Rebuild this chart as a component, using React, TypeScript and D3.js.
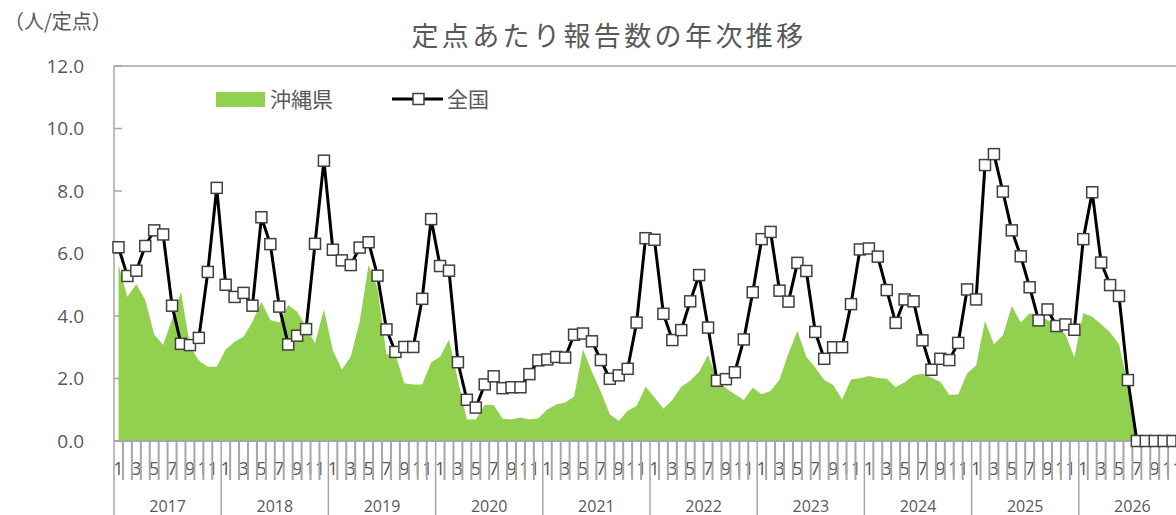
import React from 'react'
import * as d3 from 'd3'

// 年 / 月ラベル
const years = ['2017', '2018', '2019', '2020', '2021', '2022', '2023', '2024', '2025', '2026']
const monthLabels = ['1', '', '3', '', '5', '', '7', '', '9', '', '11', '']
const yTicks = [0, 2, 4, 6, 8, 10, 12]

// 沖縄県 (定点あたり)
const okinawa = [
  5.63, 4.62, 5.02, 4.51, 3.41, 3.07, 3.9, 4.78, 3.05, 2.57, 2.38, 2.38,
  2.93, 3.18, 3.34, 3.82, 4.46, 3.87, 3.79, 4.35, 4.14, 3.66, 3.13, 4.21,
  2.9, 2.29, 2.7, 3.82, 5.63, 4.9, 2.78, 2.77, 1.85, 1.81, 1.81, 2.51,
  2.7, 3.25, 1.95, 0.69, 0.69, 1.15, 1.15, 0.71, 0.69, 0.75, 0.69, 0.73,
  1.01, 1.17, 1.23, 1.42, 2.93, 2.22, 1.58, 0.86, 0.64, 0.97, 1.12, 1.74,
  1.4, 1.03, 1.31, 1.74, 1.93, 2.22, 2.75, 1.97, 1.69, 1.5, 1.31, 1.71,
  1.5, 1.6, 1.97, 2.81, 3.52, 2.7, 2.35, 1.95, 1.79, 1.33, 1.97, 2.01,
  2.08, 2.02, 1.99, 1.72, 1.88, 2.1, 2.15, 2.03, 1.89, 1.48, 1.49, 2.17,
  2.42, 3.84, 3.1, 3.38, 4.32, 3.79, 4.09, 4.0, 3.87, 3.73, 3.41, 2.68,
  4.09, 3.98, 3.74, 3.47, 3.1, 1.8, 0, 0, 0, 0, 0, 0,
]

// 全国
const national = [
  6.2, 5.28, 5.45, 6.24, 6.74, 6.61, 4.33, 3.11, 3.07, 3.3, 5.41, 8.1,
  5.0, 4.61, 4.74, 4.33, 7.16, 6.3, 4.3, 3.09, 3.37, 3.58, 6.31, 8.97,
  6.12, 5.78, 5.63, 6.19, 6.36, 5.29, 3.57, 2.85, 3.01, 3.01, 4.55, 7.1,
  5.6, 5.45, 2.52, 1.32, 1.07, 1.81, 2.07, 1.69, 1.72, 1.72, 2.14, 2.58,
  2.61, 2.69, 2.67, 3.4, 3.44, 3.19, 2.59, 1.99, 2.1, 2.31, 3.79, 6.49,
  6.44, 4.07, 3.23, 3.55, 4.47, 5.31, 3.63, 1.93, 1.98, 2.2, 3.25, 4.76,
  6.46, 6.69, 4.81, 4.46, 5.7, 5.44, 3.49, 2.63, 3.0, 3.0, 4.38, 6.13,
  6.16, 5.9, 4.83, 3.78, 4.53, 4.47, 3.22, 2.28, 2.63, 2.59, 3.14, 4.85,
  4.53, 8.83, 9.18, 7.98, 6.74, 5.91, 4.92, 3.86, 4.21, 3.68, 3.73, 3.56,
  6.46, 7.96, 5.71, 4.99, 4.64, 1.95, 0, 0, 0, 0, 0, 0,
]

const W = 1176
const H = 515
const left = 114
const right = 1186
const top = 66
const bottom = 441

const jp = '"Noto Sans CJK JP", "Noto Sans", sans-serif'
const num = '"Open Sans", "Noto Sans", sans-serif'
const textColor = '#595959'
const axisColor = '#a6a6a6'

export default function App() {
  const idx = d3.range(okinawa.length)
  const x = d3.scaleBand<number>().domain(idx).range([left, right]).padding(0)
  const bw = x.bandwidth()
  const cx = (i: number) => (x(i) as number) + bw / 2
  const y = d3.scaleLinear().domain([0, 12]).range([bottom, top])

  const area = d3.area<number>().x((d, i) => cx(i)).y0(y(0)).y1(d => y(d))
  const line = d3.line<number>().x((d, i) => cx(i)).y(d => y(d))

  return (
    <svg width={W} height={H} style={{ position: 'absolute', left: 0, top: 0, background: '#fff' }}>
      {/* title */}
      <text x={609} y={46} textAnchor="middle" fontFamily={jp} fontSize={27} letterSpacing={3.4} fill={textColor}>
        定点あたり報告数の年次推移
      </text>
      <text x={4} y={29} fontFamily={jp} fontSize={20} fill={textColor}>（人/定点）</text>

      {/* plot frame */}
      <rect x={left} y={top} width={right - left} height={bottom - top} fill="none" stroke={axisColor} strokeWidth={1.5} />

      {/* y axis */}
      {yTicks.map(t => (
        <g key={t}>
          <line x1={left} x2={left + 8} y1={y(t)} y2={y(t)} stroke={axisColor} strokeWidth={1.5} />
          <text x={84} y={y(t)} dy="0.36em" textAnchor="end" fontFamily={num} fontSize={19} fill={textColor}>
            {t.toFixed(1)}
          </text>
        </g>
      ))}

      {/* okinawa area */}
      <path d={area(okinawa) ?? ''} fill="#92d050" />

      {/* x axis */}
      <line x1={left} x2={right} y1={bottom} y2={bottom} stroke={axisColor} strokeWidth={2} />
      {idx.map(i => {
        const lab = monthLabels[i % 12]
        if (!lab) return null
        return (
          <text key={'m' + i} x={cx(i)} y={475} textAnchor="middle" fontFamily={num} fontSize={18} fill={textColor}>
            {lab}
          </text>
        )
      })}
      {d3.range(okinawa.length + 1).map(i => {
        const xx = left + i * bw
        const isYear = i % 12 === 0
        return <line key={'t' + i} x1={xx} x2={xx} y1={bottom} y2={isYear ? H : 480} stroke={axisColor} strokeWidth={isYear ? 1.5 : 2} />
      })}
      {years.map((yr, k) => (
        <text key={yr} x={left + (k * 12 + 6) * bw} y={512} textAnchor="middle" fontFamily={num} fontSize={16} fill={textColor}>
          {yr}
        </text>
      ))}

      {/* national line */}
      <path d={line(national) ?? ''} fill="none" stroke="#000" strokeWidth={3} strokeLinejoin="round" />
      {national.map((v, i) => (
        <rect key={'p' + i} x={cx(i) - 5.5} y={y(v) - 5.5} width={11} height={11} fill="#fff" stroke="#404040" strokeWidth={1.5} />
      ))}

      {/* legend */}
      <rect x={216} y={92} width={49} height={15} fill="#92d050" />
      <text x={270} y={107} fontFamily={jp} fontSize={21} fill={textColor}>沖縄県</text>
      <line x1={392} x2={443} y1={99} y2={99} stroke="#000" strokeWidth={3} />
      <rect x={413} y={93.5} width={11} height={11} fill="#fff" stroke="#404040" strokeWidth={1.5} />
      <text x={447} y={107} fontFamily={jp} fontSize={21} fill={textColor}>全国</text>
    </svg>
  )
}
